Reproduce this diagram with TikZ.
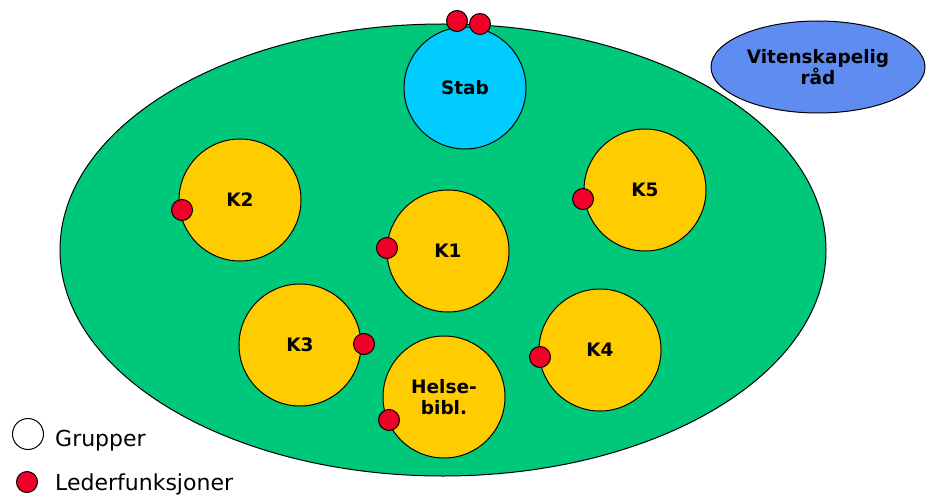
\documentclass[tikz,border=0pt]{standalone}
\usepackage{fontspec}
\setmainfont{DejaVu Sans}
\usetikzlibrary{shapes.geometric}
\definecolor{orggreen}{RGB}{0,200,122}
\definecolor{stabblue}{RGB}{0,204,255}
\definecolor{unitgold}{RGB}{255,204,0}
\definecolor{councilblue}{RGB}{95,140,240}
\definecolor{leadred}{RGB}{240,0,40}
\tikzset{
  outline/.style={draw=black, line width=1pt},
  labelfont/.style={font=\fontsize{18.5}{21}\selectfont\bfseries},
  unit/.style={outline, circle, fill=unitgold, minimum size=122pt, inner sep=0pt,
    labelfont, align=center},
  lead/.style={outline, circle, fill=leadred, minimum size=21pt, inner sep=0pt},
  legendtext/.style={anchor=base west, font=\fontsize{22}{24}\selectfont, inner sep=0pt}
}
\begin{document}
\begin{tikzpicture}[x=1pt, y=-1pt]
\useasboundingbox (0,0) rectangle (933,497);
\fill[white] (0,0) rectangle (933,497);

% the organisation as a whole
\node[outline, ellipse, fill=orggreen, minimum width=766pt, minimum height=452pt] (org) at (443,250) {};

% staff unit at the top edge
\node[unit, fill=stabblue] (stab) at (465,88) {Stab};
\node[lead] (ls1) at (457,21) {};
\node[lead] (ls2) at (480,24) {};

% scientific council outside
\node[outline, ellipse, fill=councilblue, minimum width=214pt, minimum height=92pt,
  labelfont, align=center] (vr) at (818,67) {Vitenskapelig\\råd};

% clinics
\node[unit] (k2) at (240,200) {K2};
\node[lead] (l2) at (182,210) {};

\node[unit] (k5) at (645,190) {K5};
\node[lead] (l5) at (583,199) {};

\node[unit] (k1) at (448,251) {K1};
\node[lead] (l1) at (387,248) {};

\node[unit] (k3) at (300,345) {K3};
\node[lead] (l3) at (364,344) {};

\node[unit] (k4) at (600,350) {K4};
\node[lead] (l4) at (540,357) {};

\node[unit] (hb) at (444,397) {Helse-\\bibl.};
\node[lead] (lh) at (389,420) {};

% legend
\node[outline, circle, fill=white, minimum size=31pt, inner sep=0pt] (lg1) at (28,434) {};
\node[legendtext] (lt1) at (55,446) {Grupper};
\node[lead] (lg2) at (27,482) {};
\node[legendtext] (lt2) at (55,490) {Lederfunksjoner};
\end{tikzpicture}
\end{document}
